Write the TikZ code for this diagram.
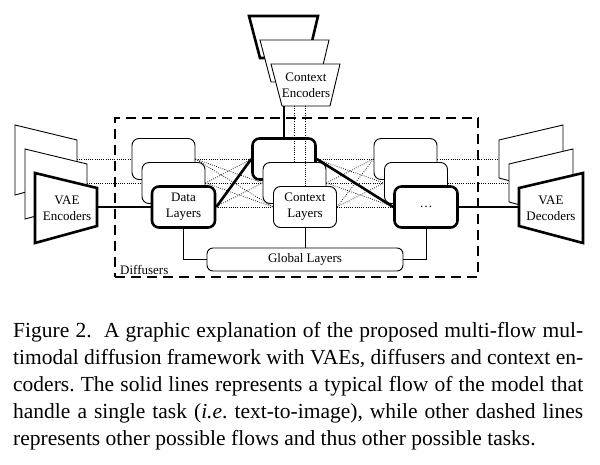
\documentclass[tikz,border=0pt]{standalone}
\usepackage{fontspec}
\setmainfont{Liberation Serif}
\begin{document}
\frenchspacing
\begin{tikzpicture}[x=1pt,y=-1pt,
  lbl/.style={font=\fontsize{13}{16}\selectfont, align=center, inner sep=0pt},
  box/.style={draw, fill=white, rounded corners=7pt, minimum width=63pt, minimum height=41pt,
              line width=0.9pt, inner sep=0pt, align=center, font=\fontsize{13}{16}\selectfont},
  thickbox/.style={box, line width=2.6pt},
  frame/.style={draw, fill=white, line width=0.9pt},
  thickframe/.style={draw, fill=white, line width=2.6pt},
  dotl/.style={line width=0.7pt, dash pattern=on 0.8pt off 1.4pt},
  thickl/.style={line width=2.6pt},
  thinl/.style={line width=0.9pt},
  capline/.style={anchor=base west, inner sep=0pt, font=\fontsize{21.5}{27}\selectfont}
]
\useasboundingbox[fill=white] (0,0) rectangle (600,464);

% ---- coordinates of encoder / decoder connection points
\coordinate (ve0) at (77,159);
\coordinate (ve1) at (87,183);
\coordinate (ve2) at (97,207);
\coordinate (vd0) at (499,159);
\coordinate (vd1) at (509,183);
\coordinate (vd2) at (519,207);
\coordinate (ceb) at (306,106);

% ---- layer box positions
\path (163.5,159) coordinate (pd1) (173.5,183) coordinate (pd2) (183.5,207) coordinate (pd3)
      (284,159) coordinate (pc1) (294.5,183) coordinate (pc2) (305,207) coordinate (pc3)
      (405.5,159) coordinate (pr1) (416,183) coordinate (pr2) (426,207) coordinate (pr3);

% invisible nodes giving anchors for the lines drawn underneath
\foreach \n in {d1,d2,d3,c1,c2,c3,r1,r2,r3}{
  \node[minimum width=63pt, minimum height=41pt, inner sep=0pt, line width=0.9pt] (\n) at (p\n) {};
}

% ---- dotted connectors
\draw[dotl] (ve0) -- (d1.west);
\draw[dotl] (ve1) -- (d2.west);
\draw[dotl] (r1.east) -- (vd0);
\draw[dotl] (r2.east) -- (vd1);
\foreach \a in {1,2,3}{
  \foreach \b in {1,2,3}{
    \draw[dotl] (d\a.east) -- (c\b.west);
    \draw[dotl] (c\a.east) -- (r\b.west);
  }
}

% ---- Diffusers dashed box
\node[draw, line width=2.4pt, dash pattern=on 10pt off 6pt, minimum width=363pt,
      minimum height=159pt, inner sep=0pt] (diff) at (296.5,197.5) {};
\node[lbl, anchor=base west] (difflbl) at (120,274) {Diffusers};

% ---- VAE encoders
\draw[frame] (15,125) -- (77,140) -- (77,178) -- (15,195) -- cycle;
\draw[frame] (25,149) -- (87,164) -- (87,202) -- (25,219) -- cycle;
\draw[thickframe] (35,173) -- (97,188) -- (97,226) -- (35,243) -- cycle;
\node[lbl] (vaeenc) at (67,208) {VAE\\Encoders};

% ---- VAE decoders
\draw[frame] (499,140) -- (563,125) -- (563,195) -- (499,178) -- cycle;
\draw[frame] (509,164) -- (573,149) -- (573,219) -- (509,202) -- cycle;
\draw[thickframe] (519,188) -- (583,173) -- (583,243) -- (519,226) -- cycle;
\node[lbl] (vaedec) at (551,208) {VAE\\Decoders};

% ---- Context encoders
\draw[thickframe] (249,16) -- (318,16) -- (308,58) -- (260,58) -- cycle;
\draw[frame] (260,40) -- (329,40) -- (319,82) -- (271,82) -- cycle;
\draw[frame] (271,64) -- (340,64) -- (330,106) -- (282,106) -- cycle;
\node[lbl] (ctxenc) at (306,85) {Context\\Encoders};

% ---- layer boxes
\node[box] (d1b) at (pd1) {};
\node[box] (d2b) at (pd2) {};
\node[thickbox] (d3b) at (pd3) {Data\\Layers};
\node[thickbox] (c1b) at (pc1) {};
\node[box] (c2b) at (pc2) {};
\node[box] (c3b) at (pc3) {Context\\Layers};
\node[box] (r1b) at (pr1) {};
\node[box] (r2b) at (pr2) {};
\node[thickbox] (r3b) at (pr3) {\dots};

% ---- global layers
\node[box, minimum width=196pt, minimum height=23pt, rounded corners=6pt] (gl) at (305,259.5) {Global Layers};
\draw[thinl] (d3b.south) |- (gl.west);
\draw[thinl] (c3b.south) -- (gl.north);
\draw[thinl] (r3b.south) |- (gl.east);

% ---- solid flow
\draw[thickl] (ve2) -- (d3b.west);
\draw[thickl] (d3b.east) -- (c1b.west);
\draw[thickl] (c1b.east) -- (r3b.west);
\draw[thickl] (r3b.east) -- (vd2);
\draw[line width=2.2pt] (c1b.north |- ceb) -- (c1b.north);
\draw[dotl] (c2b.north |- ceb) -- (c2b.north);
\draw[dotl] (c3b.north |- ceb) -- (c3b.north);

% ---- caption
\node[capline] (cap1) at (13,337) {\makebox[570pt][s]{Figure 2.\ \ A graphic explanation of the proposed multi-flow mul-}};
\node[capline] (cap2) at (13,364) {\makebox[570pt][s]{timodal diffusion framework with VAEs, diffusers and context en-}};
\node[capline] (cap3) at (13,391) {\makebox[570pt][s]{coders. The solid lines represents a typical flow of the model that}};
\node[capline] (cap4) at (13,418) {\makebox[570pt][s]{handle a single task (\textit{i.e}. text-to-image), while other dashed lines}};
\node[capline] (cap5) at (13,445) {represents other possible flows and thus other possible tasks.};
\end{tikzpicture}
\end{document}
